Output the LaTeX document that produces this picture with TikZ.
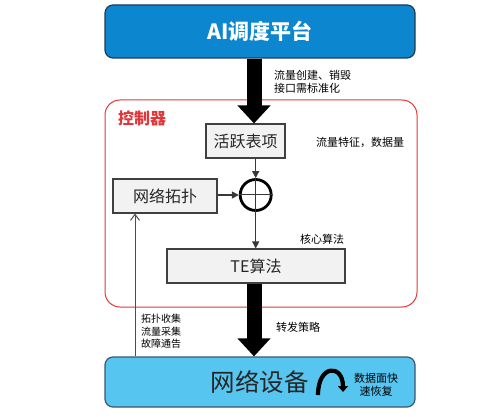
\documentclass[tikz,border=0pt]{standalone}
\usepackage{fontspec}
\setmainfont{Noto Sans CJK SC}
\usetikzlibrary{arrows.meta}
\definecolor{topblue}{HTML}{0B86CF}
\definecolor{topedge}{HTML}{233B55}
\definecolor{devblue}{HTML}{56C5F0}
\definecolor{devedge}{HTML}{3A5670}
\definecolor{ctrlred}{HTML}{E0383A}
\definecolor{boxgray}{HTML}{F2F2F2}
\definecolor{boxedge}{HTML}{404040}
\definecolor{linegray}{HTML}{383838}
\tikzset{
  procbox/.style={draw=boxedge, fill=boxgray, line width=1.1pt, inner sep=0pt, font=\fontsize{16}{18}\selectfont, text=black!85},
  bigarrow/.style={line width=15pt, draw=black, -{Triangle[width=32pt,length=18pt]}},
  conn/.style={draw=linegray, line width=1.3pt, -{Triangle[width=7pt,length=7pt]}},
  thinarrow/.style={draw=linegray!90, line width=1pt, -{Straight Barb[width=9pt,length=6pt]}},
  smalllbl/.style={font=\fontsize{11}{13.5}\selectfont, text=black, inner sep=0pt, align=left}
}
\begin{document}
\begin{tikzpicture}[x=1pt,y=-1pt]
\useasboundingbox (0,0) rectangle (493,417);
% controller frame
\node[draw=ctrlred, line width=1pt, rounded corners=15pt, minimum width=312pt, minimum height=207pt, inner sep=0pt] (ctrl) at (261,203.5) {};
\node[font=\fontsize{16}{18}\selectfont\bfseries, text=ctrlred, inner sep=0pt] (ctrllbl) at (142,118) {控制器};
% top platform
\node[draw=topedge, fill=topblue, line width=1.2pt, rounded corners=8pt, minimum width=310pt, minimum height=53pt, inner sep=0pt,
      font=\fontsize{21}{24}\selectfont\bfseries, text=white] (top) at (260,31.5) {AI调度平台};
% device box
\node[draw=devedge, fill=devblue, line width=1.2pt, rounded corners=8pt, minimum width=310pt, minimum height=50pt, inner sep=0pt] (dev) at (260,382) {};
\node[font=\fontsize{24.5}{26}\selectfont, text=black!85, inner sep=0pt] (devlbl) at (259.5,382) {网络设备};
% inner boxes
\node[procbox, minimum width=79pt, minimum height=34pt] (act) at (245.5,141) {活跃表项};
\node[procbox, minimum width=104pt, minimum height=34pt] (topo) at (165,196) {网络拓扑};
\node[procbox, minimum width=178pt, minimum height=34pt] (te) at (256,266) {TE算法};
\node[draw=black, line width=2.8pt, circle, minimum size=31pt, inner sep=0pt] (circ) at (255.7,195) {};
\draw[line width=1pt, draw=linegray] (circ.north) -- (circ.south);
\draw[line width=1pt, draw=linegray] (circ.west) -- (circ.east);
% thick arrows
\draw[bigarrow] ([xshift=-6pt]top.south) -- ([xshift=8.5pt]act.north);
\draw[bigarrow] ([xshift=-2pt]te.south) -- ([xshift=-6pt]dev.north);
% connectors
\draw[conn] (act.south -| circ) -- (circ.north);
\draw[conn] (topo.east |- circ) -- (circ.west);
\draw[conn] (circ.south) -- (te.north -| circ);
\draw[thinarrow] ([xshift=-125pt]dev.north) -- ([xshift=-30pt]topo.south);
% curved arrow
\coordinate (ca) at (318,395);
\coordinate (cb) at (343,392);
\draw[line width=4.2pt, -{Triangle[width=10pt,length=6pt]}] (ca) .. controls (318,364) and (343,364) .. (cb);
% labels
\node[smalllbl, anchor=north west] (l1) at (274,70) {流量创建、销毁\\接口需标准化};
\node[smalllbl, anchor=west] (l2) at (316,142) {流量特征，数据量};
\node[smalllbl] (l3) at (322,239) {核心算法};
\node[smalllbl] (l4) at (298,327) {转发策略};
\node[smalllbl, anchor=north west, font=\fontsize{10}{12.5}\selectfont] (l5) at (141,314) {拓扑收集\\流量采集\\故障通告};
\node[smalllbl, align=center] (l6) at (376,385) {数据面快\\速恢复};
\end{tikzpicture}
\end{document}
